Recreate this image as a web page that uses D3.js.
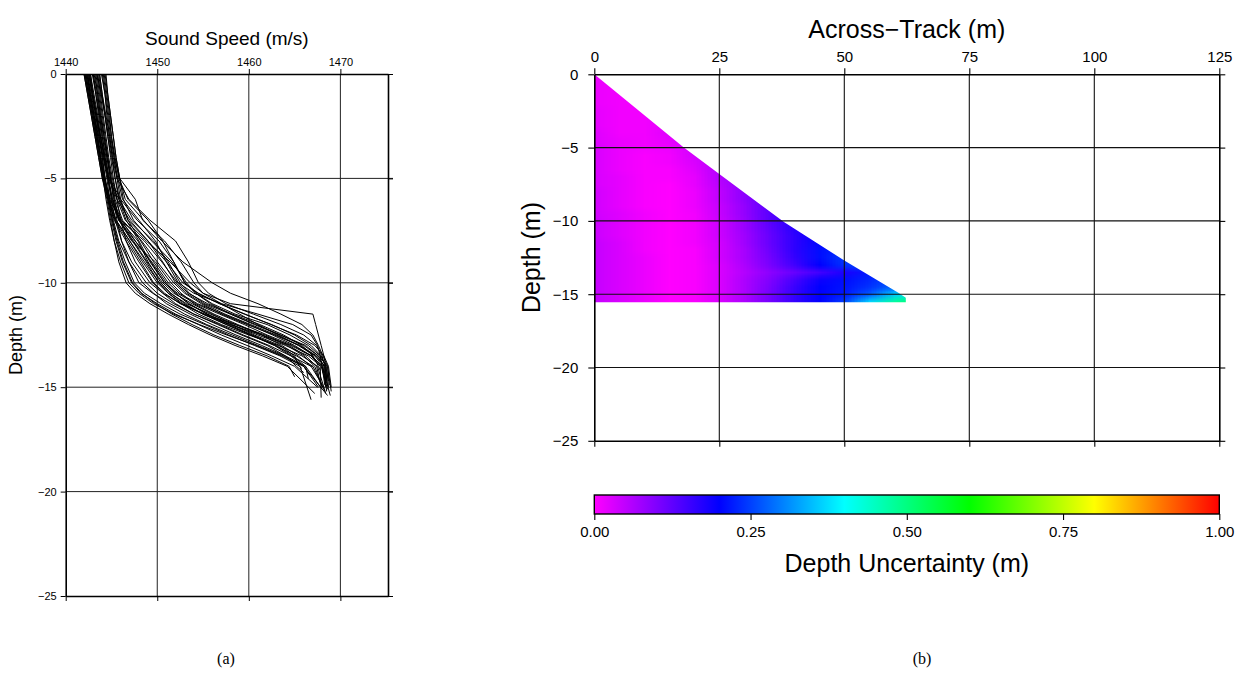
<!DOCTYPE html>
<html>
<head>
<meta charset="utf-8">
<script src="https://cdn.jsdelivr.net/npm/d3@7"></script>
<style>
  html, body { margin: 0; padding: 0; background: #fff; }
  svg { display: block; font-family: "Liberation Sans", Arial, Helvetica, sans-serif; }
</style>
</head>
<body>
<svg id="fig" width="1239" height="675"></svg>
<script>
// ---------------- Panel (a): sound speed profiles ----------------
const depthLevels = [0, -1, -2, -3, -4, -5, -6, -7, -8, -9, -10, -10.5, -11, -11.5, -12, -12.5, -13, -13.5, -14];

const profileSpeeds = [
  [1443.9,1444.3,1444.6,1444.9,1445.3,1445.9,1447.6,1448.4,1450.8,1452.6,1454.0,1455.0,1458.0,1467.0,1467.3,1467.6,1467.9,1468.2,1468.4],
  [1443.4,1443.9,1444.3,1444.7,1445.1,1445.6,1446.9,1449.2,1452.0,1453.4,1454.5,1455.6,1457.5,1460.5,1463.5,1466.0,1467.4,1468.0,1468.3],
  [1442.6,1443.0,1443.4,1443.8,1444.3,1444.8,1446.0,1447.8,1450.2,1451.8,1453.0,1454.2,1456.0,1458.5,1462.0,1464.5,1466.5,1467.8,1468.5],
  [1444.4,1444.6,1444.9,1445.2,1445.5,1445.9,1446.5,1448.5,1450.5,1452.8,1456.0,1458.0,1461.0,1463.5,1465.8,1467.0,1467.6,1468.1,1468.6],
  [1442.3,1442.7,1443.1,1443.6,1444.1,1444.7,1445.8,1447.2,1449.6,1451.2,1452.5,1453.5,1455.2,1458.0,1460.8,1463.5,1466.2,1467.6,1468.2],
  [1443.7,1444.0,1444.4,1444.8,1445.2,1445.7,1446.2,1448.0,1449.8,1451.0,1452.3,1454.0,1457.0,1461.0,1464.8,1466.8,1467.5,1467.8,1468.0],
  [1444.1,1444.4,1444.7,1445.0,1445.4,1445.8,1446.8,1449.0,1450.6,1451.8,1453.0,1454.4,1456.8,1459.6,1462.4,1465.2,1467.2,1468.2,1468.7],
  [1442.5,1442.9,1443.3,1443.8,1444.2,1444.7,1445.6,1447.0,1449.0,1450.6,1452.0,1453.2,1455.0,1457.4,1460.2,1463.0,1465.6,1467.4,1468.3],
  [1442.2,1442.6,1443.0,1443.4,1443.8,1444.2,1444.9,1445.8,1447.6,1449.4,1451.0,1452.0,1453.5,1455.5,1458.0,1461.0,1464.0,1466.5,1467.9],
  [1443.1,1443.5,1443.8,1444.2,1444.6,1445.0,1445.4,1446.2,1448.3,1450.0,1451.8,1453.0,1454.8,1457.0,1459.8,1462.8,1465.5,1467.3,1468.3],
  [1442.0,1442.4,1442.8,1443.2,1443.6,1444.0,1444.7,1445.5,1447.0,1448.6,1450.2,1451.2,1452.6,1454.5,1457.0,1460.0,1463.2,1465.8,1467.5],
  [1443.6,1443.9,1444.3,1444.6,1445.0,1445.4,1445.9,1446.8,1449.0,1451.0,1452.8,1454.5,1456.8,1459.5,1462.5,1465.0,1466.8,1467.9,1468.4],
  [1442.7,1443.1,1443.5,1443.8,1444.2,1444.6,1445.0,1445.9,1447.9,1449.0,1450.4,1451.5,1453.0,1455.0,1457.5,1460.2,1462.8,1464.6,1466.0],
  [1443.3,1443.6,1443.9,1444.2,1444.5,1444.9,1445.3,1445.8,1447.2,1449.8,1451.5,1452.6,1454.0,1456.2,1458.8,1461.5,1464.2,1466.0,1467.2],
  [1442.4,1442.8,1443.2,1443.5,1443.9,1444.3,1444.8,1446.0,1448.6,1450.5,1452.2,1453.4,1455.5,1458.2,1461.2,1463.8,1465.8,1467.0,1467.6],
  [1444.0,1444.3,1444.5,1444.8,1445.1,1445.4,1445.8,1446.6,1448.0,1449.2,1450.8,1452.2,1454.2,1456.8,1459.5,1462.0,1464.8,1466.9,1468.0],
  [1442.1,1442.5,1442.9,1443.3,1443.7,1444.1,1444.6,1445.4,1446.8,1448.2,1449.6,1450.8,1452.5,1455.2,1458.5,1461.8,1464.4,1466.2,1467.4],
  [1443.5,1443.8,1444.1,1444.4,1444.7,1445.1,1445.6,1446.5,1448.8,1451.4,1453.6,1455.0,1457.0,1459.0,1461.0,1463.2,1465.4,1467.2,1468.1],
  [1442.9,1443.3,1443.6,1443.9,1444.2,1444.6,1445.1,1445.8,1447.4,1448.9,1450.6,1451.8,1453.8,1456.0,1458.2,1460.6,1463.4,1465.0,1465.5],
  [1442.4,1442.7,1443.1,1443.4,1443.8,1444.2,1444.7,1445.3,1446.6,1448.0,1449.5,1450.6,1452.0,1454.0,1456.6,1459.2,1462.0,1464.0,1465.2],
  [1444.2,1444.5,1444.8,1445.0,1445.3,1445.6,1446.0,1446.8,1448.2,1449.6,1451.2,1452.4,1454.4,1457.2,1460.0,1462.6,1465.0,1466.8,1467.8],
  [1443.0,1443.4,1443.7,1444.0,1444.4,1444.7,1445.1,1446.1,1447.6,1449.3,1450.8,1452.0,1453.4,1455.4,1457.8,1460.4,1463.0,1464.8,1466.2],
  [1442.2,1442.6,1443.0,1443.4,1443.8,1444.2,1444.8,1445.5,1447.0,1448.4,1450.0,1451.2,1452.8,1455.0,1458.0,1461.4,1464.6,1466.8,1468.0],
  [1444.3,1444.6,1444.9,1445.2,1445.5,1445.9,1446.3,1447.4,1449.4,1451.6,1453.2,1454.2,1455.8,1458.0,1460.6,1463.4,1466.0,1467.6,1468.6],
  [1443.2,1443.5,1443.8,1444.1,1444.5,1444.9,1445.3,1445.9,1447.3,1448.8,1450.2,1451.4,1453.2,1455.8,1458.6,1461.4,1463.6,1465.4,1466.8],
  [1442.6,1442.9,1443.3,1443.6,1444.0,1444.3,1444.6,1445.0,1445.5,1446.2,1447.2,1448.2,1450.0,1452.0,1454.5,1457.0,1459.8,1462.5,1465.0],
  [1442.0,1442.4,1442.8,1443.2,1443.6,1444.0,1444.5,1444.9,1445.3,1445.8,1446.6,1447.6,1449.2,1451.2,1453.4,1455.8,1458.5,1461.5,1464.2],
  [1443.4,1443.7,1444.0,1444.3,1444.6,1444.9,1445.2,1445.6,1446.1,1446.9,1448.0,1449.5,1451.4,1453.6,1456.0,1458.6,1461.4,1464.0,1466.2],
  [1442.3,1442.7,1443.1,1443.5,1443.8,1444.1,1444.6,1445.1,1445.7,1446.5,1447.5,1448.6,1450.4,1452.5,1455.2,1457.8,1460.6,1463.4,1465.6],
  [1443.0,1443.3,1443.7,1444.0,1444.3,1444.6,1445.0,1445.4,1446.1,1447.2,1448.8,1450.0,1451.8,1454.0,1456.8,1459.4,1462.2,1464.6,1466.8],
  [1442.7,1443.0,1443.4,1443.7,1444.0,1444.3,1444.7,1445.1,1445.6,1446.3,1447.3,1448.3,1449.8,1451.6,1453.8,1456.2,1459.0,1462.0,1464.4],
  [1443.7,1444.0,1444.3,1444.6,1444.9,1445.2,1445.6,1446.0,1446.6,1447.6,1449.2,1450.6,1452.6,1455.0,1457.6,1460.2,1462.8,1465.2,1467.0],
  [1442.5,1442.9,1443.3,1443.7,1444.1,1444.5,1444.8,1445.2,1445.8,1446.9,1448.4,1449.6,1451.0,1453.0,1455.4,1458.2,1461.0,1463.8,1466.0],
  [1442.1,1442.5,1442.9,1443.3,1443.7,1444.1,1444.4,1444.8,1445.3,1446.0,1446.9,1448.0,1449.6,1451.8,1454.6,1457.6,1460.8,1463.6,1466.0]
];
const profileBottomDepth = [-14.6,-14.8,-15.0,-14.9,-15.2,-14.3,-15.0,-14.7,-15.1,-14.9,-15.3,-14.7,-14.4,-15.0,-14.2,-15.4,-14.8,-15.0,-14.1,-14.3,-15.5,-14.6,-14.9,-15.2,-14.0,-15.0,-15.3,-15.1,-15.6,-15.0,-14.5,-15.2,-15.4,-15.0];
const profileBottomSpeed = [1468.5,1468.4,1468.7,1468.8,1468.5,1468.1,1469.0,1468.5,1468.6,1468.6,1468.4,1468.7,1466.6,1468.0,1467.8,1468.9,1467.8,1468.4,1465.8,1466.0,1467.9,1466.5,1468.3,1469.0,1467.0,1467.5,1467.2,1468.0,1466.8,1468.2,1465.0,1468.3,1468.6,1467.6];

const speedTicks = [1440, 1450, 1460, 1470];
const depthTicksA = [0, -5, -10, -15, -20, -25];

// ---------------- Panel (b): depth uncertainty over the swath ----------------
const gridAcross = [0, 5, 10, 15, 20, 25, 30, 35, 40, 45, 50, 55, 60, 65];
const gridDepth = [0,-0.5,-1,-1.5,-2,-2.5,-3,-3.5,-4,-4.5,-5,-5.5,-6,-6.5,-7,-7.5,-8,-8.5,-9,-9.5,-10,-10.5,-11,-11.5,-12,-12.5,-13,-13.5,-14,-14.5,-15,-15.5];
const uncertaintyRows = [
  [0.015, 0.01],
  [0.015, 0.01],
  [0.015, 0.01],
  [0.015, 0.01, 0.01],
  [0.015, 0.01, 0.01],
  [0.02, 0.01, 0.01],
  [0.02, 0.01, 0.01, 0.02],
  [0.02, 0.01, 0.01, 0.02],
  [0.025, 0.01, 0.01, 0.025],
  [0.025, 0.015, 0.01, 0.02, 0.035],
  [0.03, 0.015, 0.01, 0.015, 0.035],
  [0.03, 0.015, 0.005, 0.01, 0.035],
  [0.03, 0.015, 0.005, 0.01, 0.03, 0.055],
  [0.03, 0.015, 0.005, 0.005, 0.025, 0.06],
  [0.03, 0.02, 0.005, 0.005, 0.02, 0.06, 0.09],
  [0.03, 0.02, 0.005, 0, 0.02, 0.055, 0.09],
  [0.035, 0.02, 0.005, 0, 0.015, 0.05, 0.09],
  [0.035, 0.02, 0.005, 0, 0.015, 0.05, 0.09, 0.13],
  [0.035, 0.02, 0.005, 0, 0.015, 0.045, 0.085, 0.13],
  [0.035, 0.025, 0.01, 0, 0.01, 0.045, 0.085, 0.13, 0.17],
  [0.04, 0.025, 0.01, 0, 0.01, 0.04, 0.08, 0.13, 0.17],
  [0.04, 0.025, 0.01, 0, 0.01, 0.04, 0.08, 0.125, 0.17],
  [0.04, 0.025, 0.01, 0, 0.01, 0.04, 0.075, 0.12, 0.165, 0.2],
  [0.045, 0.03, 0.01, 0, 0.01, 0.035, 0.075, 0.12, 0.165, 0.205],
  [0.045, 0.03, 0.01, 0, 0.005, 0.035, 0.07, 0.115, 0.165, 0.21, 0.235],
  [0.045, 0.03, 0.015, 0, 0.005, 0.035, 0.07, 0.11, 0.16, 0.21, 0.245],
  [0.045, 0.03, 0.015, 0, 0.005, 0.03, 0.065, 0.105, 0.15, 0.2, 0.24, 0.26],
  [0.045, 0.03, 0.015, 0, 0.005, 0.03, 0.06, 0.09, 0.12, 0.15, 0.18, 0.22],
  [0.045, 0.03, 0.015, 0, 0.005, 0.03, 0.065, 0.1, 0.145, 0.19, 0.21, 0.23, 0.26],
  [0.045, 0.03, 0.015, 0, 0.005, 0.03, 0.065, 0.105, 0.155, 0.2, 0.215, 0.24, 0.28],
  [0.045, 0.03, 0.015, 0, 0.005, 0.03, 0.065, 0.11, 0.16, 0.2, 0.22, 0.27, 0.36, 0.42],
  [0.045, 0.03, 0.015, 0, 0.005, 0.03, 0.065, 0.11, 0.16, 0.2, 0.25, 0.37, 0.48, 0.53]
];
// outer limit of the swath (across-track distance reached at each depth)
const swathAcross = [0, 17.9, 25, 38, 50, 60.8, 62.3, 62.3, 0];
const swathDepth  = [0, -5.0, -6.8, -10.1, -12.7, -14.9, -15.25, -15.55, -15.55];

const acrossTicks = [0, 25, 50, 75, 100, 125];
const depthTicksB = [0, -5, -10, -15, -20, -25];

const colorStops  = [0, 0.2, 0.4, 0.6, 0.8, 1.0];
const colorValues = ["#ff00ff", "#0000ff", "#00ffff", "#00ff00", "#ffff00", "#ff0000"];
const colorbarTicks = [0, 0.25, 0.5, 0.75, 1.0];

// ---------------- drawing ----------------
const svg = d3.select("#fig");

// scales
const xA = d3.scaleLinear().domain([1440, 1475.2]).range([65.7, 388]);
const yA = d3.scaleLinear().domain([0, -25]).range([74, 596]);
const xB = d3.scaleLinear().domain([0, 125]).range([594.3, 1219.3]);
const yB = d3.scaleLinear().domain([0, -25]).range([74.3, 440.8]);
const color = d3.scaleLinear().domain(colorStops).range(colorValues).clamp(true);
const xC = d3.scaleLinear().domain([0, 1]).range([594.3, 1219.3]);

// ---- panel (a) ----
const gA = svg.append("g");

// grid
gA.selectAll("line.vgrid").data(speedTicks.slice(1)).join("line")
  .attr("x1", d => xA(d)).attr("x2", d => xA(d))
  .attr("y1", yA(0)).attr("y2", yA(-25))
  .attr("stroke", "#222").attr("stroke-width", 1);
gA.selectAll("line.hgrid").data(depthTicksA.slice(1, -1)).join("line")
  .attr("x1", xA.range()[0]).attr("x2", xA.range()[1] + 5)
  .attr("y1", d => yA(d)).attr("y2", d => yA(d))
  .attr("stroke", "#222").attr("stroke-width", 1);

// profiles
const profileLine = d3.line().x(d => xA(d[0])).y(d => yA(d[1]));
const profilePts = profileSpeeds.map((sp, i) => {
  const pts = sp.map((s, k) => [s, depthLevels[k]]);
  pts.push([profileBottomSpeed[i], profileBottomDepth[i]]);
  return pts;
});
gA.append("g").selectAll("path").data(profilePts).join("path")
  .attr("d", profileLine)
  .attr("fill", "none").attr("stroke", "#000").attr("stroke-width", 1);

// axes
const axTopA = gA.append("g").attr("transform", `translate(0,${yA(0)})`)
  .call(d3.axisTop(xA).tickValues(speedTicks).tickFormat(d3.format("d"))
    .tickSize(5).tickPadding(3).tickSizeOuter(0));
const axLeftA = gA.append("g").attr("transform", `translate(${xA.range()[0]},0)`)
  .call(d3.axisLeft(yA).tickValues(depthTicksA).tickSize(5).tickPadding(4).tickSizeOuter(0));
const axBotA = gA.append("g").attr("transform", `translate(0,${yA(-25)})`)
  .call(d3.axisBottom(xA).tickValues(speedTicks).tickSize(5).tickFormat("").tickSizeOuter(0));
const axRightA = gA.append("g").attr("transform", `translate(${xA.range()[1]},0)`)
  .call(d3.axisRight(yA).tickValues(depthTicksA).tickSize(5).tickFormat("").tickSizeOuter(0));
[axTopA, axLeftA, axBotA, axRightA].forEach(ax => {
  ax.select(".domain").attr("stroke", "#000").attr("stroke-width", 1.6);
  ax.selectAll(".tick line").attr("stroke", "#000").attr("stroke-width", 1);
  ax.selectAll("text").attr("font-size", 11).attr("fill", "#000")
    .attr("font-family", "Liberation Sans, Arial, sans-serif");
});

gA.append("text").attr("x", (xA.range()[0] + xA.range()[1]) / 2).attr("y", 45)
  .attr("text-anchor", "middle").attr("font-size", 19).text("Sound Speed (m/s)");
gA.append("text").attr("transform", `translate(22,${(yA(0) + yA(-25)) / 2}) rotate(-90)`)
  .attr("text-anchor", "middle").attr("font-size", 18).text("Depth (m)");

// ---- panel (b) ----
const gB = svg.append("g");

// uncertainty field rendered as a small raster, scaled and clipped to the swath
const nCols = gridAcross.length, nRows = gridDepth.length;
const cv = document.createElement("canvas");
cv.width = nCols; cv.height = nRows;
const ctx = cv.getContext("2d");
uncertaintyRows.forEach((row, r) => {
  for (let c = 0; c < nCols; c++) {
    const v = row[Math.min(c, row.length - 1)];
    ctx.fillStyle = color(v);
    ctx.fillRect(c, r, 1, 1);
  }
});
const dAcross = gridAcross[1] - gridAcross[0];
const dDepth = gridDepth[0] - gridDepth[1];

const defs = svg.append("defs");
const swathPts = swathAcross.map((a, i) => [xB(a), yB(swathDepth[i])]);
defs.append("clipPath").attr("id", "swathClip")
  .append("polygon").attr("points", swathPts.map(p => p.join(",")).join(" "));

const imgX0 = xB(gridAcross[0] - dAcross / 2), imgX1 = xB(gridAcross[nCols - 1] + dAcross / 2);
const imgY0 = yB(gridDepth[0] + dDepth / 2), imgY1 = yB(gridDepth[nRows - 1] - dDepth / 2);
gB.append("image")
  .attr("href", cv.toDataURL())
  .attr("x", imgX0).attr("y", imgY0)
  .attr("width", imgX1 - imgX0).attr("height", imgY1 - imgY0)
  .attr("preserveAspectRatio", "none")
  .attr("clip-path", "url(#swathClip)");

// grid
gB.selectAll("line.vgrid").data(acrossTicks.slice(1, -1)).join("line")
  .attr("x1", d => xB(d)).attr("x2", d => xB(d))
  .attr("y1", yB(0)).attr("y2", yB(-25))
  .attr("stroke", "#111").attr("stroke-width", 1.1);
gB.selectAll("line.hgrid").data(depthTicksB.slice(1, -1)).join("line")
  .attr("x1", xB(0)).attr("x2", xB(125))
  .attr("y1", d => yB(d)).attr("y2", d => yB(d))
  .attr("stroke", "#111").attr("stroke-width", 1.1);

const axTopB = gB.append("g").attr("transform", `translate(0,${yB(0)})`)
  .call(d3.axisTop(xB).tickValues(acrossTicks).tickSize(6).tickPadding(6).tickSizeOuter(0));
const axLeftB = gB.append("g").attr("transform", `translate(${xB(0)},0)`)
  .call(d3.axisLeft(yB).tickValues(depthTicksB).tickSize(6).tickPadding(10).tickSizeOuter(0));
const axBotB = gB.append("g").attr("transform", `translate(0,${yB(-25)})`)
  .call(d3.axisBottom(xB).tickValues(acrossTicks).tickSize(6).tickFormat("").tickSizeOuter(0));
const axRightB = gB.append("g").attr("transform", `translate(${xB(125)},0)`)
  .call(d3.axisRight(yB).tickValues(depthTicksB).tickSize(6).tickFormat("").tickSizeOuter(0));
[axTopB, axLeftB, axBotB, axRightB].forEach(ax => {
  ax.select(".domain").attr("stroke", "#000").attr("stroke-width", 1.6);
  ax.selectAll(".tick line").attr("stroke", "#000").attr("stroke-width", 1.1);
  ax.selectAll("text").attr("font-size", 15).attr("fill", "#000")
    .attr("font-family", "Liberation Sans, Arial, sans-serif");
});

gB.append("text").attr("x", (xB(0) + xB(125)) / 2).attr("y", 38)
  .attr("text-anchor", "middle").attr("font-size", 25).text("Across\u2212Track (m)");
gB.append("text").attr("transform", `translate(540,${(yB(0) + yB(-25)) / 2}) rotate(-90)`)
  .attr("text-anchor", "middle").attr("font-size", 25).text("Depth (m)");

// colour bar
const grad = defs.append("linearGradient").attr("id", "cbar")
  .attr("x1", "0%").attr("x2", "100%").attr("y1", "0%").attr("y2", "0%");
grad.selectAll("stop").data(colorStops).join("stop")
  .attr("offset", d => d * 100 + "%").attr("stop-color", d => color(d));
const cbY0 = 495, cbY1 = 514;
gB.append("rect").attr("x", xC(0)).attr("y", cbY0)
  .attr("width", xC(1) - xC(0)).attr("height", cbY1 - cbY0)
  .attr("fill", "url(#cbar)").attr("stroke", "#000").attr("stroke-width", 1.4);
const axC = gB.append("g").attr("transform", `translate(0,${cbY1})`)
  .call(d3.axisBottom(xC).tickValues(colorbarTicks).tickFormat(d3.format(".2f"))
    .tickSize(6).tickPadding(6).tickSizeOuter(0));
axC.select(".domain").remove();
axC.selectAll(".tick line").attr("stroke", "#000").attr("stroke-width", 1.1);
axC.selectAll("text").attr("font-size", 15).attr("fill", "#000")
  .attr("font-family", "Liberation Sans, Arial, sans-serif");
gB.append("text").attr("x", (xC(0) + xC(1)) / 2).attr("y", 572)
  .attr("text-anchor", "middle").attr("font-size", 25).text("Depth Uncertainty (m)");

// sub-figure captions
svg.append("text").attr("x", 226).attr("y", 664).attr("text-anchor", "middle")
  .attr("font-family", "Liberation Serif, 'DejaVu Serif', serif").attr("font-size", 16).text("(a)");
svg.append("text").attr("x", 922).attr("y", 664).attr("text-anchor", "middle")
  .attr("font-family", "Liberation Serif, 'DejaVu Serif', serif").attr("font-size", 16).text("(b)");
</script>
</body>
</html>
